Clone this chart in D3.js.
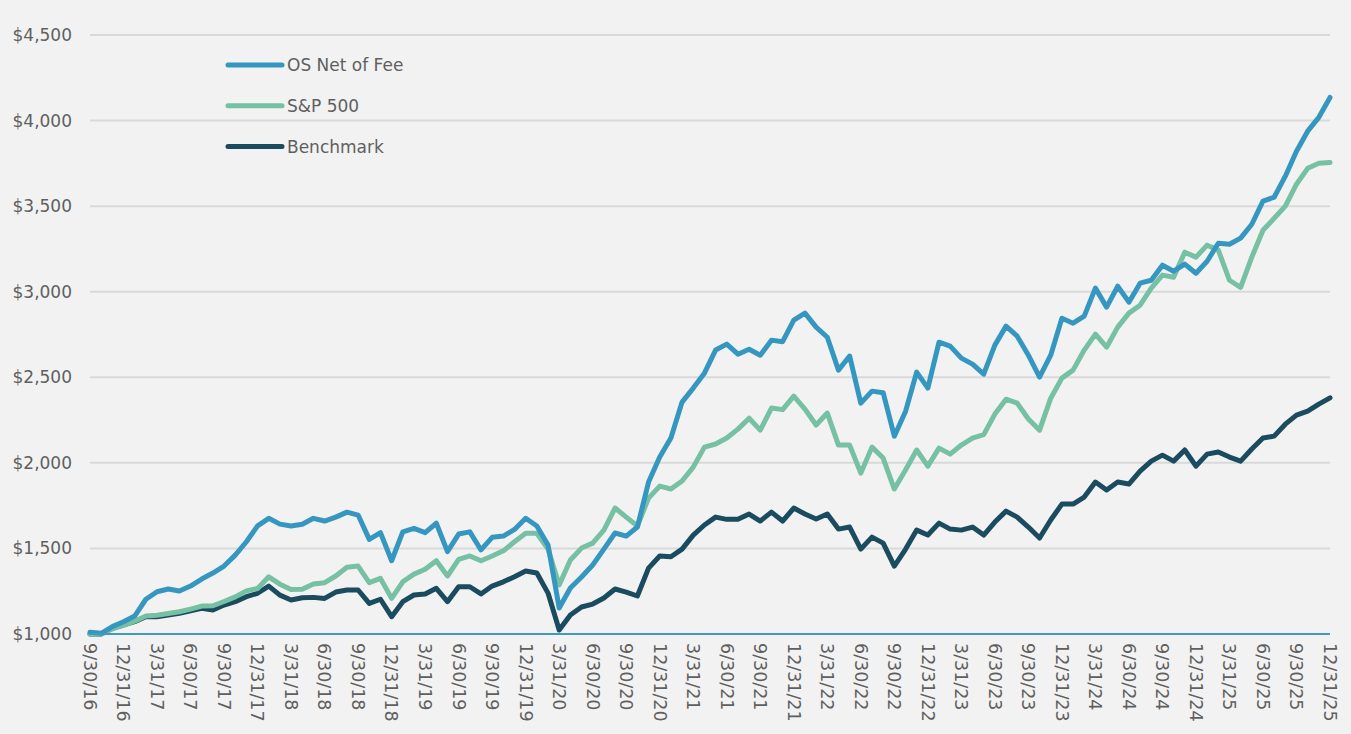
<!DOCTYPE html>
<meta charset="utf-8">
<title>Growth of $1,000</title>
<style>
  body { margin: 0; background: #f2f2f2; }
  svg { display: block; }
  text { font-family: "DejaVu Sans", sans-serif; fill: #5f5f5f; }
</style>
<svg id="chart" width="1351" height="734"></svg>
<script src="https://cdn.jsdelivr.net/npm/d3@7"></script>
<script>

// month-end values from 9/30/16 to 12/31/25
var osNetOfFee = [
  1010, 1004, 1043, 1072, 1105, 1203, 1247, 1263, 1251, 1280, 1321, 1356,
  1397, 1461, 1539, 1632, 1676, 1642, 1631, 1641, 1676, 1660, 1683, 1712,
  1695, 1553, 1592, 1428, 1597, 1617, 1592, 1647, 1481, 1584, 1597, 1491,
  1565, 1572, 1611, 1676, 1631, 1520, 1152, 1269, 1333, 1403, 1496, 1590,
  1572, 1625, 1888, 2034, 2145, 2355, 2437, 2524, 2659, 2694, 2635, 2664,
  2629, 2717, 2708, 2834, 2875, 2793, 2734, 2542, 2624, 2349, 2419, 2410,
  2156, 2300, 2530, 2437, 2705, 2682, 2612, 2577, 2518, 2688, 2799, 2740,
  2629, 2501, 2629, 2845, 2816, 2857, 3021, 2910, 3032, 2939, 3050, 3067,
  3155, 3120, 3161, 3108, 3178, 3283, 3277, 3313, 3394, 3529, 3552, 3675,
  3821, 3938, 4019, 4135
];

var sp500 = [
  1000, 1000, 1030, 1050, 1075, 1105, 1110, 1120, 1130, 1145, 1163, 1165,
  1190, 1217, 1252, 1266, 1334, 1291, 1260, 1261, 1292, 1300, 1339, 1390,
  1397, 1300, 1325, 1208, 1305, 1350, 1378, 1428, 1339, 1436, 1456, 1428,
  1456, 1486, 1539, 1588, 1588, 1496, 1286, 1432, 1502, 1531, 1607, 1736,
  1683, 1631, 1794, 1864, 1847, 1894, 1975, 2092, 2110, 2145, 2197, 2261,
  2191, 2320, 2311, 2390, 2314, 2221, 2291, 2104, 2104, 1940, 2092, 2028,
  1847, 1958, 2075, 1981, 2086, 2051, 2104, 2145, 2165, 2285, 2372, 2349,
  2256, 2191, 2378, 2495, 2542, 2659, 2752, 2676, 2793, 2875, 2921, 3021,
  3097, 3085, 3231, 3202, 3272, 3243, 3067, 3026, 3202, 3359, 3429, 3500,
  3628, 3721, 3751, 3755
];

var benchmark = [
  1000, 1000, 1033, 1053, 1072, 1101, 1101, 1111, 1121, 1136, 1150, 1140,
  1169, 1189, 1218, 1238, 1280, 1227, 1199, 1212, 1214, 1208, 1245, 1257,
  1257, 1179, 1203, 1101, 1189, 1228, 1234, 1267, 1189, 1276, 1276, 1234,
  1280, 1305, 1335, 1368, 1356, 1239, 1023, 1111, 1158, 1175, 1210, 1263,
  1245, 1222, 1385, 1456, 1451, 1496, 1578, 1637, 1683, 1670, 1670, 1701,
  1660, 1712, 1660, 1736, 1701, 1672, 1701, 1613, 1625, 1496, 1566, 1531,
  1397, 1495, 1607, 1578, 1648, 1613, 1607, 1625, 1578, 1654, 1718, 1683,
  1625, 1561, 1666, 1759, 1759, 1800, 1888, 1841, 1888, 1876, 1952, 2010,
  2045, 2010, 2075, 1981, 2051, 2063, 2034, 2010, 2081, 2145, 2156, 2226,
  2279, 2302, 2343, 2380
];

// one label per quarter end
var quarterLabels = [
  "9/30/16", "12/31/16", "3/31/17", "6/30/17", "9/30/17", "12/31/17",
  "3/31/18", "6/30/18", "9/30/18", "12/31/18", "3/31/19", "6/30/19",
  "9/30/19", "12/31/19", "3/31/20", "6/30/20", "9/30/20", "12/31/20",
  "3/31/21", "6/30/21", "9/30/21", "12/31/21", "3/31/22", "6/30/22",
  "9/30/22", "12/31/22", "3/31/23", "6/30/23", "9/30/23", "12/31/23",
  "3/31/24", "6/30/24", "9/30/24", "12/31/24", "3/31/25", "6/30/25",
  "9/30/25", "12/31/25"
];

var yTicks = [1000, 1500, 2000, 2500, 3000, 3500, 4000, 4500];

var seriesNames = ["OS Net of Fee", "S&P 500", "Benchmark"];
var seriesColors = ["#3597c0", "#76c0a4", "#1b4b5f"];

var svg = d3.select("#chart");

var x = d3.scaleLinear()
    .domain([0, osNetOfFee.length - 1])
    .range([90, 1330]);

var y = d3.scaleLinear()
    .domain([1000, 4500])
    .range([634, 35]);

var fmt = d3.format("$,");

// gridlines
svg.append("g")
  .selectAll("line")
  .data(yTicks.slice(1))
  .join("line")
    .attr("x1", x.range()[0])
    .attr("x2", x.range()[1])
    .attr("y1", function(d) { return y(d); })
    .attr("y2", function(d) { return y(d); })
    .attr("stroke", "#d9d9d9")
    .attr("stroke-width", 2);

// y labels
svg.append("g")
  .selectAll("text")
  .data(yTicks)
  .join("text")
    .attr("x", 72)
    .attr("y", function(d) { return y(d); })
    .attr("dy", "0.35em")
    .attr("text-anchor", "end")
    .style("font-size", "17px")
    .text(function(d) { return fmt(d); });

// x labels, rotated
svg.append("g")
  .selectAll("text")
  .data(quarterLabels)
  .join("text")
    .attr("transform", function(d, i) { return "translate(" + x(i * 3) + ",643) rotate(90)"; })
    .attr("dy", "0.35em")
    .attr("text-anchor", "start")
    .style("font-size", "17.5px")
    .text(function(d) { return d; });

var line = d3.line()
    .x(function(d, i) { return x(i); })
    .y(function(d) { return y(d); });

var allSeries = [osNetOfFee, sp500, benchmark];

// draw benchmark first so the blue line sits on top
[2, 1, 0].forEach(function(k) {
  svg.append("path")
    .datum(allSeries[k])
    .attr("fill", "none")
    .attr("stroke", seriesColors[k])
    .attr("stroke-width", 5)
    .attr("stroke-linejoin", "round")
    .attr("stroke-linecap", "round")
    .attr("d", line);
});

// bottom axis line
svg.append("line")
  .attr("x1", x.range()[0])
  .attr("x2", x.range()[1])
  .attr("y1", y(1000))
  .attr("y2", y(1000))
  .attr("stroke", "#3f9ac3")
  .attr("stroke-width", 2);

// legend
var legend = svg.append("g")
  .selectAll("g")
  .data(seriesNames)
  .join("g")
    .attr("transform", function(d, i) { return "translate(228," + (65 + i * 40.8) + ")"; });

legend.append("line")
  .attr("x1", 0)
  .attr("x2", 54)
  .attr("stroke", function(d, i) { return seriesColors[i]; })
  .attr("stroke-width", 5)
  .attr("stroke-linecap", "round");

legend.append("text")
  .attr("x", 59)
  .attr("dy", "0.35em")
  .style("font-size", "17px")
  .text(function(d) { return d; });
</script>
